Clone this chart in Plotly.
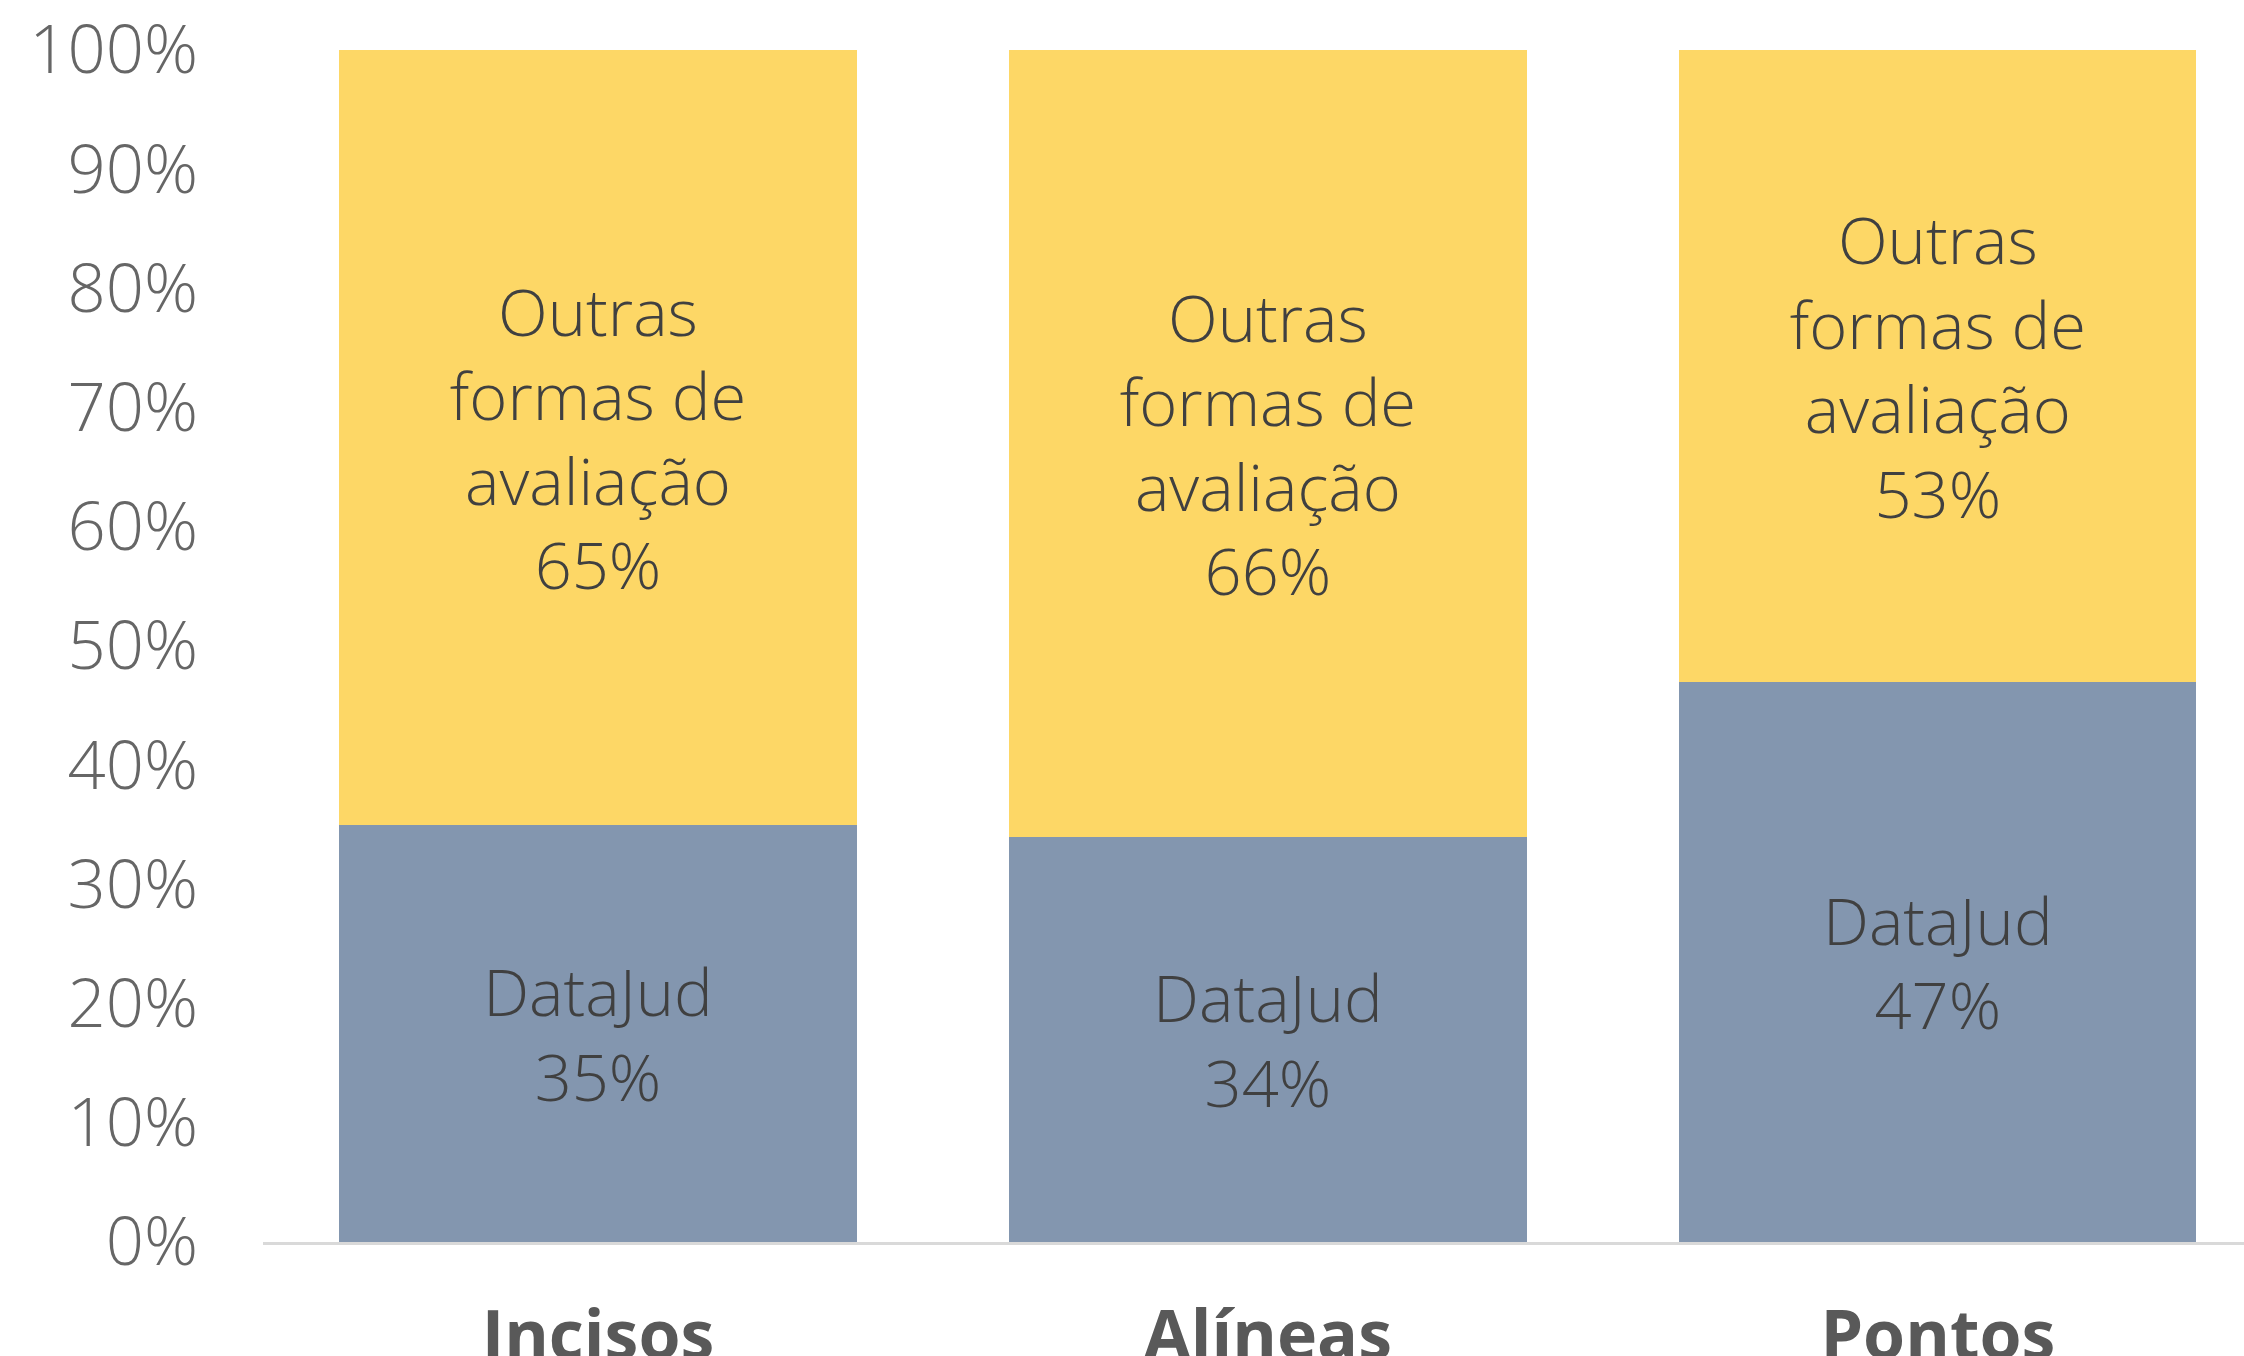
import plotly.graph_objects as go

categories = ["Incisos", "Alíneas", "Pontos"]
datajud = [0.35, 0.34, 0.47]
outras = [0.65, 0.66, 0.53]
datajud_name = "DataJud"
outras_name = "Outras<br>formas de<br>avaliação"
ytick_vals = [0, 0.1, 0.2, 0.3, 0.4, 0.5, 0.6, 0.7, 0.8, 0.9, 1.0]
ytick_text = ["0%", "10%", "20%", "30%", "40%", "50%", "60%", "70%", "80%", "90%", "100%"]

FONT = "Open Sans"
BLUE = "#8396AF"
YELLOW = "#FDD766"
TXT = "#404040"
AX = "#595959"
TICK = "#666666"

fig = go.Figure()
fig.add_trace(go.Bar(
    x=categories, y=datajud, name="DataJud",
    marker=dict(color=BLUE, line=dict(width=0)),
    width=0.772,
    text=[f"{datajud_name}<br>{round(v*100)}%" for v in datajud],
    textposition="inside", insidetextanchor="middle",
    textfont=dict(family=FONT, size=65, color=TXT, weight=300),
))
fig.add_trace(go.Bar(
    x=categories, y=outras, name="Outras",
    marker=dict(color=YELLOW, line=dict(width=0)),
    width=0.772,
    text=[f"{outras_name}<br>{round(v*100)}%" for v in outras],
    textposition="inside", insidetextanchor="middle",
    textfont=dict(family=FONT, size=65, color=TXT, weight=300),
))

fig.update_layout(
    barmode="stack",
    width=2244, height=1356,
    margin=dict(l=263, r=0, t=50, b=114, autoexpand=False),
    paper_bgcolor="white", plot_bgcolor="white",
    showlegend=False,
    font=dict(family=FONT, color=AX),
    uniformtext=dict(minsize=65, mode="show"),
)
fig.update_xaxes(
    range=[-0.5, 2.457],
    showline=True, linecolor="#D9D9D9", linewidth=3,
    showgrid=False, zeroline=False,
    tickfont=dict(family=FONT, size=68, color=AX, weight=700),
    ticks="", ticklabelstandoff=32,
    automargin=False,
)
fig.update_yaxes(
    range=[0, 1],
    tickvals=ytick_vals, ticktext=ytick_text,
    showgrid=False, zeroline=False, showline=False,
    tickfont=dict(family=FONT, size=67, color=TICK, weight=300),
    ticks="", ticklabelstandoff=64,
    automargin=False,
)

fig.write_html("out.html", config={"displayModeBar": False},
               post_script="document.body.style.margin='0';")
